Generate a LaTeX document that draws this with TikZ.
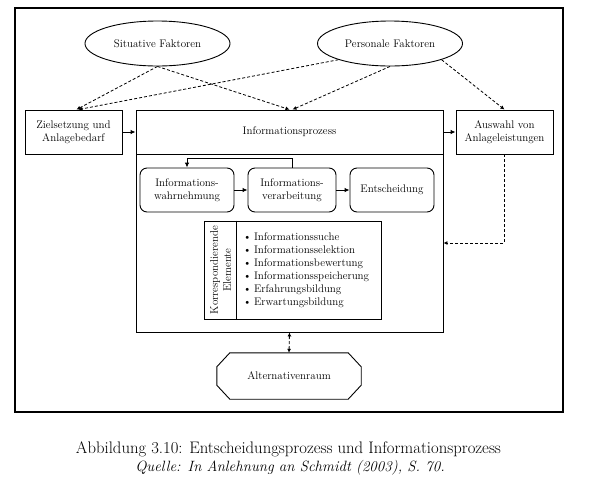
\documentclass[tikz,border=0pt]{standalone}
\usepackage{fontspec}
\usetikzlibrary{shapes.geometric,arrows.meta}
\begin{document}
\begin{tikzpicture}[x=1pt,y=-1pt,
  every node/.style={font=\fontsize{11}{13}\selectfont},
  box/.style={draw, line width=0.9pt, minimum width=#1, minimum height=44pt, align=center, inner sep=2pt},
  rbox/.style={box=#1, rounded corners=7pt},
  fac/.style={draw, ellipse, line width=0.9pt, minimum width=145pt, minimum height=45pt, inner sep=0pt},
  dline/.style={dash pattern=on 3pt off 2pt, line width=0.8pt, -{Latex[length=4pt,width=4pt]}},
  sline/.style={line width=0.9pt, -{Latex[length=5pt,width=4.5pt]}},
  frame/.style={line width=1.1pt},
  capA/.style={font=\fontsize{16.7}{19}\selectfont},
  capB/.style={font=\fontsize{14.9}{17}\selectfont\itshape}
]
\useasboundingbox (0,0) rectangle (602,480);
\draw[frame] (15,8) rectangle (563,412);

\node[fac] (sf) at (157.5,43.5) {Situative Faktoren};
\node[fac] (pf) at (390,43.5) {Personale Faktoren};

\node[box=97pt] (zs) at (73.5,132) {Zielsetzung und\\Anlagebedarf};
\node[box=307pt] (iph) at (289.5,132) {Informationsprozess};
\node[box=97pt] (aw) at (504.5,132) {Auswahl von\\Anlageleistungen};
\node[draw, line width=0.9pt, minimum width=307pt, minimum height=178pt] (ipb) at (289.5,243) {};

\node[rbox=94pt] (wn) at (187,190) {Informations-\\wahrnehmung};
\node[rbox=88pt] (vb) at (292,190) {Informations-\\verarbeitung};
\node[rbox=84pt] (ent) at (392,190) {Entscheidung};

\node[draw, line width=0.9pt, minimum width=177pt, minimum height=98pt] (korr) at (292.5,270) {};
\draw[line width=0.9pt] ([xshift=33pt]korr.north west) -- ([xshift=33pt]korr.south west);
\node[rotate=90, align=center, inner sep=0pt] (kt) at (220.5,270) {Korrespondierende\\Elemente};
\node[anchor=west, align=left, inner sep=0pt] (kl) at (243,270.5) {\textbullet\hspace{2.5pt}Informationssuche\\\textbullet\hspace{2.5pt}Informationsselektion\\\textbullet\hspace{2.5pt}Informationsbewertung\\\textbullet\hspace{2.5pt}Informationsspeicherung\\\textbullet\hspace{2.5pt}Erfahrungsbildung\\\textbullet\hspace{2.5pt}Erwartungsbildung};

\node[minimum width=144pt, minimum height=46pt, inner sep=0pt] (alt) at (289,376) {Alternativenraum};
\draw[line width=0.9pt] ([xshift=13pt]alt.north west) -- ([xshift=-13pt]alt.north east) -- ([yshift=-14pt]alt.north east) -- ([yshift=14pt]alt.south east) -- ([xshift=-13pt]alt.south east) -- ([xshift=13pt]alt.south west) -- ([yshift=14pt]alt.south west) -- ([yshift=-14pt]alt.north west) -- cycle;

\draw[sline] (zs.east) -- (iph.west);
\draw[sline] (iph.east) -- (aw.west);
\draw[sline] (wn) -- (vb);
\draw[sline] (vb) -- (ent);
\draw[sline] (vb.north) -- ++(0,-9) -| (wn.north);

\draw[dline] (sf.south) -- ([xshift=3pt]zs.north);
\draw[dline] (sf.south) -- (iph.north);
\draw[dline] (pf.south west) -- ([xshift=5pt]zs.north);
\draw[dline] (pf.south) -- ([xshift=3pt]iph.north);
\draw[dline] (pf.south east) -- (aw.north);
\draw[dline] (aw.south) |- (ipb.east);
\draw[dline, {Latex[length=4pt,width=4pt]}-{Latex[length=4pt,width=4pt]}] (ipb.south) -- (alt.north);

\node[capA] (cap1) at (288.5,449) {Abbildung 3.10: Entscheidungsprozess und Informationsprozess};
\node[capB] (cap2) at (290,468) {Quelle: In Anlehnung an Schmidt (2003), S. 70.};
\end{tikzpicture}
\end{document}
